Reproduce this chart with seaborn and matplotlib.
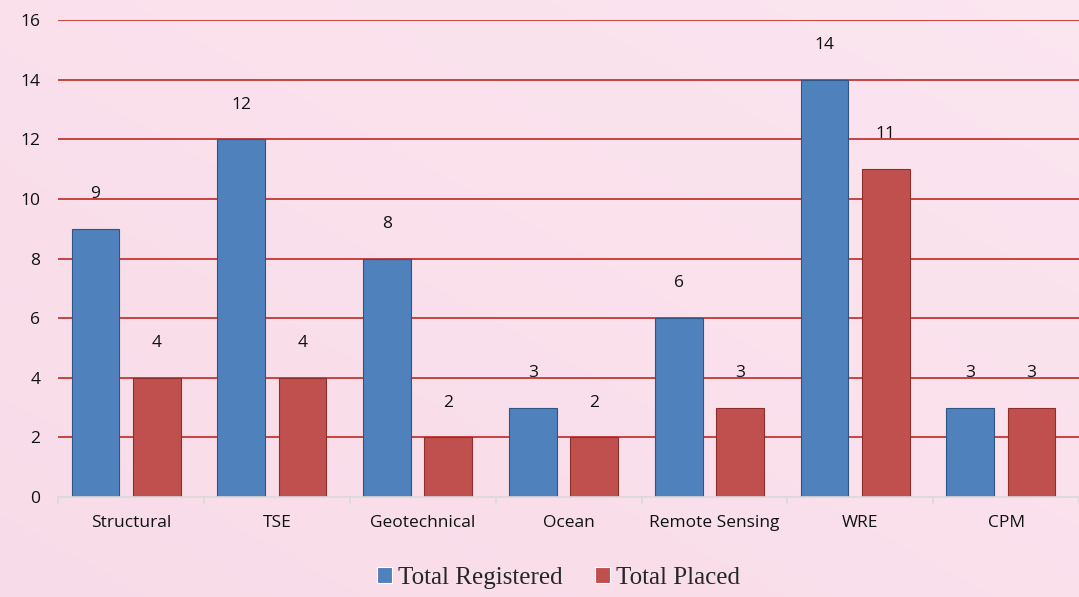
import numpy as np
import pandas as pd
import matplotlib.pyplot as plt
import seaborn as sns

categories = ["Structural", "TSE", "Geotechnical", "Ocean", "Remote Sensing", "WRE", "CPM"]
registered = [9, 12, 8, 3, 6, 14, 3]
placed = [4, 4, 2, 2, 3, 11, 3]
series = ["Total Registered", "Total Placed"]
yticks = [0, 2, 4, 6, 8, 10, 12, 14, 16]

df = pd.DataFrame({
    "category": categories * 2,
    "series": [series[0]] * len(categories) + [series[1]] * len(categories),
    "value": registered + placed,
})

sns.set_style("white")
plt.rcParams["font.family"] = ["Open Sans", "DejaVu Sans"]

fig = plt.figure(figsize=(10.79, 5.97), dpi=100)
# soft pink gradient background
bg = fig.add_axes([0, 0, 1, 1], zorder=-10)
grad = np.linspace(0, 1, 256)
gx, gy = np.meshgrid(grad, grad)
shade = 0.5 * gx + 0.5 * (1 - gy)
pink_a = np.array([0.975, 0.86, 0.91])
pink_b = np.array([0.985, 0.90, 0.94])
img = pink_a[None, None, :] * (1 - shade[..., None]) + pink_b[None, None, :] * shade[..., None]
bg.imshow(img, aspect="auto", extent=[0, 1, 0, 1])
bg.axis("off")

ax = fig.add_axes([0.054, 0.1675, 0.946, 0.799])
ax.patch.set_alpha(0)

palette = {series[0]: "#4F81BD", series[1]: "#C0504D"}
sns.barplot(data=df, x="category", y="value", hue="series", palette=palette,
            width=0.84, gap=0.22, ax=ax, saturation=1, linewidth=0.8, legend=True)
for bar, s in zip(ax.patches, [series[0]] * 7 + [series[1]] * 7):
    bar.set_edgecolor("#2F5584" if s == series[0] else "#8E2E2B")
    # the reference bars sit a touch left of the category centre
    bar.set_x(bar.get_x() - 0.035)

for container in ax.containers:
    for bar in container:
        h = bar.get_height()
        ax.annotate(f"{h:g}", (bar.get_x() + bar.get_width() / 2, h),
                    xytext=(0, 25), textcoords="offset points",
                    ha="center", va="center", fontsize=12.5, color="#111111")

ax.set_ylim(0, 16)
ax.set_xlim(-0.5, len(categories) - 0.5)
ax.set_yticks(yticks)
for t in yticks[1:]:
    ax.axhline(t, color="#C8423F", lw=1.4, zorder=0)
ax.set_xlabel("")
ax.set_ylabel("")
ax.tick_params(axis="both", length=0, labelsize=12.5, colors="#111111")
ax.tick_params(axis="x", pad=13)
ax.tick_params(axis="y", pad=13)
for side in ["top", "right", "left"]:
    ax.spines[side].set_visible(False)
ax.spines["bottom"].set_color("#D9D9D9")
ax.spines["bottom"].set_linewidth(1.2)
for k in range(len(categories) + 1):
    ax.plot([k - 0.5, k - 0.5], [0, -0.2], color="#D9D9D9", lw=1.2, clip_on=False)

ax.legend(loc="center", bbox_to_anchor=(0.49, -0.17), ncol=2, frameon=False,
          prop={"family": "Liberation Serif", "size": 18}, handlelength=0.6,
          handleheight=0.6, handletextpad=0.25, columnspacing=1.3)

fig.savefig("out.png", dpi=100)
